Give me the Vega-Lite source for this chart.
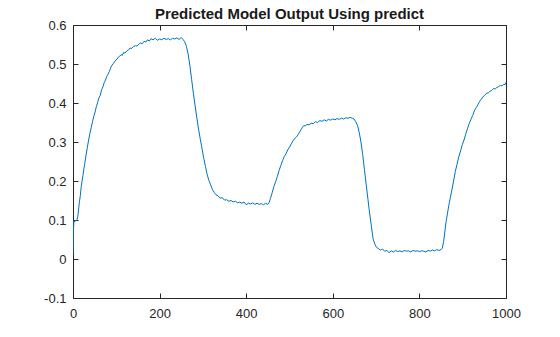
{
  "$schema": "https://vega.github.io/schema/vega-lite/v6.json",
  "width": 433,
  "height": 273,
  "autosize": {"type": "none"},
  "padding": {"left": 73, "top": 25, "right": 54, "bottom": 39},
  "background": "white",
  "title": {"text": "Predicted Model Output Using predict", "font": "Liberation Sans", "fontSize": 15, "fontWeight": "bold", "color": "#1a1a1a", "anchor": "middle", "offset": -3},
  "config": {
    "view": {"stroke": "#262626", "strokeWidth": 1},
    "axis": {"grid": false, "domain": false, "tickColor": "#262626", "tickSize": -5, "minExtent": 0, "maxExtent": 0, "labelFlush": false, "labelOverlap": false, "labelFont": "Liberation Sans", "labelFontSize": 13, "labelColor": "#262626", "title": null}
  },
  "data": {"values": [
    {"t":0,"y":0.012},{"t":1,"y":0.07},{"t":2,"y":0.097},{"t":3,"y":0.095},{"t":5,"y":0.099},{"t":7,"y":0.097},{"t":9,"y":0.101},{"t":11,"y":0.108},{"t":13,"y":0.128},{"t":15,"y":0.148},{"t":17,"y":0.163},{"t":19,"y":0.186},{"t":21,"y":0.2},{"t":23,"y":0.214},{"t":25,"y":0.231},{"t":27,"y":0.243},{"t":30,"y":0.266},{"t":33,"y":0.285},{"t":36,"y":0.305},{"t":39,"y":0.321},{"t":42,"y":0.337},{"t":45,"y":0.352},{"t":48,"y":0.366},{"t":51,"y":0.377},{"t":54,"y":0.391},{"t":57,"y":0.402},{"t":60,"y":0.413},{"t":63,"y":0.42},{"t":66,"y":0.434},{"t":69,"y":0.441},{"t":72,"y":0.452},{"t":75,"y":0.459},{"t":78,"y":0.468},{"t":81,"y":0.474},{"t":84,"y":0.481},{"t":87,"y":0.49},{"t":90,"y":0.497},{"t":93,"y":0.501},{"t":96,"y":0.506},{"t":99,"y":0.51},{"t":102,"y":0.513},{"t":105,"y":0.518},{"t":108,"y":0.52},{"t":111,"y":0.524},{"t":114,"y":0.522},{"t":117,"y":0.53},{"t":120,"y":0.528},{"t":124,"y":0.533},{"t":128,"y":0.536},{"t":132,"y":0.541},{"t":136,"y":0.54},{"t":140,"y":0.545},{"t":144,"y":0.547},{"t":148,"y":0.546},{"t":152,"y":0.551},{"t":156,"y":0.554},{"t":160,"y":0.552},{"t":164,"y":0.558},{"t":168,"y":0.556},{"t":172,"y":0.562},{"t":176,"y":0.559},{"t":180,"y":0.565},{"t":185,"y":0.562},{"t":190,"y":0.566},{"t":195,"y":0.561},{"t":200,"y":0.564},{"t":205,"y":0.562},{"t":210,"y":0.566},{"t":215,"y":0.563},{"t":220,"y":0.565},{"t":225,"y":0.562},{"t":230,"y":0.566},{"t":235,"y":0.564},{"t":240,"y":0.567},{"t":245,"y":0.563},{"t":250,"y":0.568},{"t":254,"y":0.563},{"t":258,"y":0.557},{"t":262,"y":0.545},{"t":266,"y":0.525},{"t":270,"y":0.495},{"t":274,"y":0.46},{"t":278,"y":0.425},{"t":282,"y":0.393},{"t":286,"y":0.362},{"t":290,"y":0.333},{"t":294,"y":0.307},{"t":298,"y":0.283},{"t":302,"y":0.258},{"t":306,"y":0.237},{"t":310,"y":0.216},{"t":314,"y":0.201},{"t":318,"y":0.19},{"t":322,"y":0.178},{"t":326,"y":0.171},{"t":330,"y":0.165},{"t":335,"y":0.162},{"t":340,"y":0.156},{"t":345,"y":0.157},{"t":350,"y":0.151},{"t":355,"y":0.152},{"t":360,"y":0.148},{"t":365,"y":0.15},{"t":370,"y":0.146},{"t":375,"y":0.148},{"t":380,"y":0.144},{"t":385,"y":0.146},{"t":390,"y":0.143},{"t":395,"y":0.146},{"t":400,"y":0.139},{"t":405,"y":0.143},{"t":410,"y":0.141},{"t":415,"y":0.144},{"t":420,"y":0.14},{"t":425,"y":0.143},{"t":430,"y":0.14},{"t":435,"y":0.142},{"t":440,"y":0.139},{"t":445,"y":0.143},{"t":450,"y":0.14},{"t":453,"y":0.145},{"t":456,"y":0.155},{"t":460,"y":0.17},{"t":464,"y":0.186},{"t":468,"y":0.198},{"t":472,"y":0.212},{"t":476,"y":0.227},{"t":480,"y":0.24},{"t":484,"y":0.252},{"t":488,"y":0.263},{"t":492,"y":0.27},{"t":496,"y":0.28},{"t":500,"y":0.287},{"t":504,"y":0.295},{"t":508,"y":0.303},{"t":512,"y":0.309},{"t":516,"y":0.313},{"t":520,"y":0.319},{"t":524,"y":0.327},{"t":527,"y":0.332},{"t":530,"y":0.338},{"t":533,"y":0.342},{"t":536,"y":0.341},{"t":540,"y":0.345},{"t":545,"y":0.344},{"t":550,"y":0.348},{"t":555,"y":0.347},{"t":560,"y":0.352},{"t":565,"y":0.35},{"t":570,"y":0.355},{"t":575,"y":0.353},{"t":580,"y":0.357},{"t":585,"y":0.354},{"t":590,"y":0.358},{"t":595,"y":0.356},{"t":600,"y":0.359},{"t":605,"y":0.357},{"t":610,"y":0.36},{"t":615,"y":0.358},{"t":620,"y":0.361},{"t":625,"y":0.359},{"t":630,"y":0.362},{"t":635,"y":0.361},{"t":640,"y":0.363},{"t":645,"y":0.361},{"t":649,"y":0.359},{"t":653,"y":0.352},{"t":657,"y":0.343},{"t":661,"y":0.325},{"t":665,"y":0.3},{"t":669,"y":0.268},{"t":673,"y":0.23},{"t":677,"y":0.192},{"t":681,"y":0.155},{"t":685,"y":0.118},{"t":689,"y":0.085},{"t":693,"y":0.052},{"t":697,"y":0.038},{"t":701,"y":0.03},{"t":705,"y":0.027},{"t":710,"y":0.023},{"t":715,"y":0.025},{"t":720,"y":0.02},{"t":725,"y":0.022},{"t":730,"y":0.016},{"t":735,"y":0.021},{"t":740,"y":0.018},{"t":745,"y":0.022},{"t":750,"y":0.019},{"t":755,"y":0.021},{"t":760,"y":0.018},{"t":765,"y":0.022},{"t":770,"y":0.02},{"t":775,"y":0.021},{"t":780,"y":0.018},{"t":785,"y":0.022},{"t":790,"y":0.02},{"t":795,"y":0.021},{"t":800,"y":0.019},{"t":805,"y":0.021},{"t":810,"y":0.02},{"t":815,"y":0.018},{"t":820,"y":0.022},{"t":825,"y":0.02},{"t":830,"y":0.023},{"t":835,"y":0.021},{"t":840,"y":0.024},{"t":845,"y":0.022},{"t":850,"y":0.024},{"t":853,"y":0.028},{"t":856,"y":0.045},{"t":859,"y":0.072},{"t":862,"y":0.098},{"t":865,"y":0.118},{"t":868,"y":0.138},{"t":871,"y":0.155},{"t":875,"y":0.177},{"t":879,"y":0.2},{"t":883,"y":0.225},{"t":887,"y":0.243},{"t":891,"y":0.262},{"t":895,"y":0.277},{"t":899,"y":0.293},{"t":903,"y":0.305},{"t":907,"y":0.32},{"t":911,"y":0.334},{"t":915,"y":0.347},{"t":919,"y":0.358},{"t":923,"y":0.368},{"t":927,"y":0.38},{"t":931,"y":0.388},{"t":935,"y":0.395},{"t":939,"y":0.404},{"t":943,"y":0.41},{"t":947,"y":0.416},{"t":951,"y":0.42},{"t":955,"y":0.425},{"t":959,"y":0.426},{"t":963,"y":0.43},{"t":967,"y":0.432},{"t":971,"y":0.437},{"t":975,"y":0.436},{"t":979,"y":0.44},{"t":983,"y":0.442},{"t":987,"y":0.445},{"t":991,"y":0.444},{"t":995,"y":0.448},{"t":998,"y":0.447},{"t":1000,"y":0.453}
  ]},
  "layer": [
    {
      "mark": {"type": "line", "color": "#0072BD", "strokeWidth": 1, "clip": true},
      "encoding": {
        "x": {"field": "t", "type": "quantitative", "scale": {"domain": [0, 1000], "nice": false}, "axis": {"orient": "bottom", "values": [0, 200, 400, 600, 800, 1000], "labelExpr": "'' + datum.value", "labelPadding": 14}},
        "y": {"field": "y", "type": "quantitative", "scale": {"domain": [-0.1, 0.6], "nice": false, "zero": false}, "axis": {"orient": "left", "values": [-0.1, 0, 0.1, 0.2, 0.3, 0.4, 0.5, 0.6], "labelExpr": "'' + datum.value", "labelPadding": 12}}
      }
    },
    {
      "mark": {"type": "point", "opacity": 0},
      "encoding": {
        "x": {"field": "t", "type": "quantitative", "axis": {"orient": "top", "values": [0, 200, 400, 600, 800, 1000], "labels": false}},
        "y": {"field": "y", "type": "quantitative", "axis": {"orient": "right", "values": [-0.1, 0, 0.1, 0.2, 0.3, 0.4, 0.5, 0.6], "labels": false}}
      }
    }
  ]
}
